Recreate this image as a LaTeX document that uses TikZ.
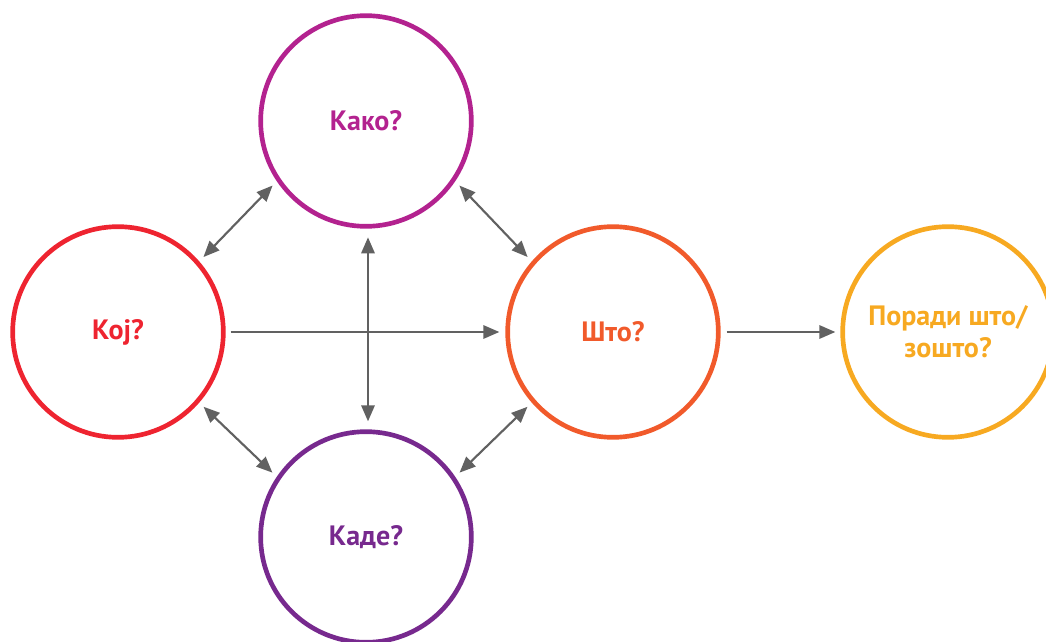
\documentclass[tikz,border=0pt]{standalone}
\usepackage{fontspec}
\setmainfont{PT Sans}
\usetikzlibrary{arrows.meta,positioning}
\definecolor{kojred}{HTML}{EE2430}
\definecolor{kakomag}{HTML}{B3228F}
\definecolor{stoorange}{HTML}{F15A2B}
\definecolor{kadepurple}{HTML}{77298E}
\definecolor{poradiyellow}{HTML}{F7A921}
\definecolor{arrowgray}{HTML}{616161}

\begin{document}
\begin{tikzpicture}[x=0.75pt, y=-0.75pt,
    >={Triangle[length=12pt,width=10pt]},
    question/.style={circle, draw=#1, text=#1, line width=3.5pt, minimum size=158pt,
        inner sep=0pt, align=center, font=\bfseries\fontsize{21}{24}\selectfont},
    link/.style={draw=arrowgray, line width=1.6pt}]
    \useasboundingbox (0,0) rectangle (1046,642);
    \clip (0,0) rectangle (1046,642);
    % Circles
    \node [question=kojred] (koj) at (118,332) {Кој?};
    \node [question=kakomag] (kako) at (366,121) {Како?};
    \node [question=stoorange] (sto) at (613,332) {Што?};
    \node [question=kadepurple] (kade) at (366,537) {Каде?};
    \node [question=poradiyellow] (poradi) at (948,332) {Поради што/\\зошто?};
    % One-way arrows
    \draw [link, ->, shorten <=3.75pt, shorten >=4.5pt] (koj.east) -- (sto.west);
    \draw [link, ->, shorten <=4.5pt, shorten >=3.75pt] (sto.east) -- (poradi.west);
    % Two-way arrows
    \draw [link, <->, shorten <=6.5pt, shorten >=6pt]
        ([xshift=1.5pt]kako.south) -- ([xshift=1.5pt]kade.north);
    \draw [link, <->, shorten <=4.5pt, shorten >=4.5pt] (koj.41) -- (kako.214);
    \draw [link, <->, shorten <=4.5pt, shorten >=4.5pt] (sto.139) -- (kako.326);
    \draw [link, <->, shorten <=4.5pt, shorten >=4.5pt] (koj.319) -- (kade.146);
    \draw [link, <->, shorten <=4.5pt, shorten >=4.5pt] (sto.221) -- (kade.34);
\end{tikzpicture}
\end{document}
